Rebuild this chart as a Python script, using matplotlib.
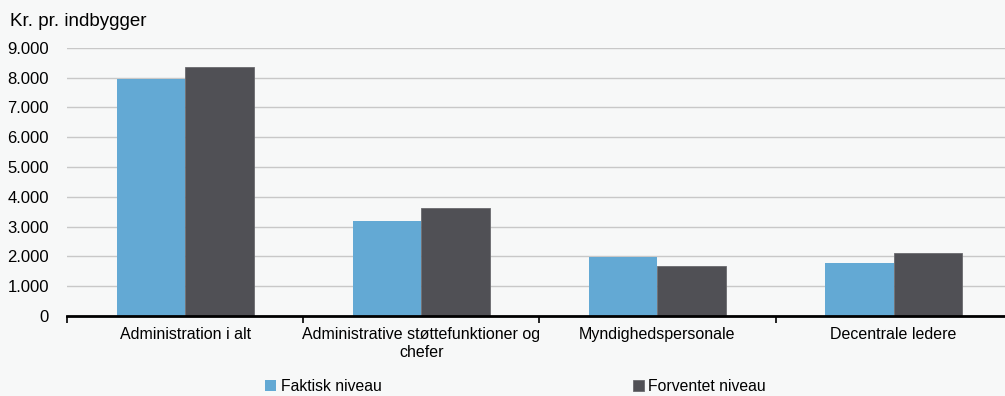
import matplotlib.pyplot as plt
import numpy as np

plt.rcParams['font.family'] = ['Liberation Sans', 'DejaVu Sans']

categories = ["Administration i alt", "Administrative støttefunktioner og\nchefer",
              "Myndighedspersonale", "Decentrale ledere"]
faktisk = [7960, 3180, 1980, 1780]
forventet = [8370, 3640, 1680, 2120]
yticks = [0, 1000, 2000, 3000, 4000, 5000, 6000, 7000, 8000, 9000]
ytick_labels = ["0", "1.000", "2.000", "3.000", "4.000", "5.000", "6.000", "7.000", "8.000", "9.000"]

bg = '#f7f8f8'
fig = plt.figure(figsize=(10.05, 3.96), dpi=100, facecolor=bg)
ax = fig.add_axes([0.0667, 0.202, 0.940, 0.677], facecolor=bg)

x = np.arange(len(categories))
w = 0.29
ax.bar(x - w / 2, faktisk, w, color='#63a9d4', label='Faktisk niveau', zorder=3)
ax.bar(x + w / 2, forventet, w, color='#505055', edgecolor='#6a6a6e', linewidth=0.6,
       label='Forventet niveau', zorder=3)

ax.set_xlim(-0.5, len(categories) - 0.5)
ax.set_ylim(0, 9000)
ax.set_yticks(yticks)
ax.set_yticklabels(ytick_labels, fontsize=12)
ax.tick_params(axis='y', length=0, pad=13)
ax.grid(axis='y', color='#c8c8c8', linewidth=1, zorder=0)

ax.set_xticks(np.arange(-0.5, len(categories), 1.0))
ax.set_xticklabels([])
ax.set_xticks(x, minor=True)
ax.set_xticklabels(categories, minor=True, fontsize=11.5)
ax.tick_params(axis='x', which='major', length=5, width=1.2, color='black', direction='out')
ax.tick_params(axis='x', which='minor', length=0, pad=8)

for s in ['top', 'right', 'left']:
    ax.spines[s].set_visible(False)
ax.spines['bottom'].set_linewidth(2)
ax.spines['bottom'].set_zorder(4)

fig.text(0.01, 0.945, "Kr. pr. indbygger", fontsize=13.5, ha='left', va='center')

fig.legend(loc='center', bbox_to_anchor=(0.513, 0.023), ncol=2, frameon=False,
           fontsize=11.3, handlelength=0.7, handleheight=0.7, handletextpad=0.3,
           columnspacing=16.0)

fig.savefig('out.png', dpi=100, facecolor=bg)
